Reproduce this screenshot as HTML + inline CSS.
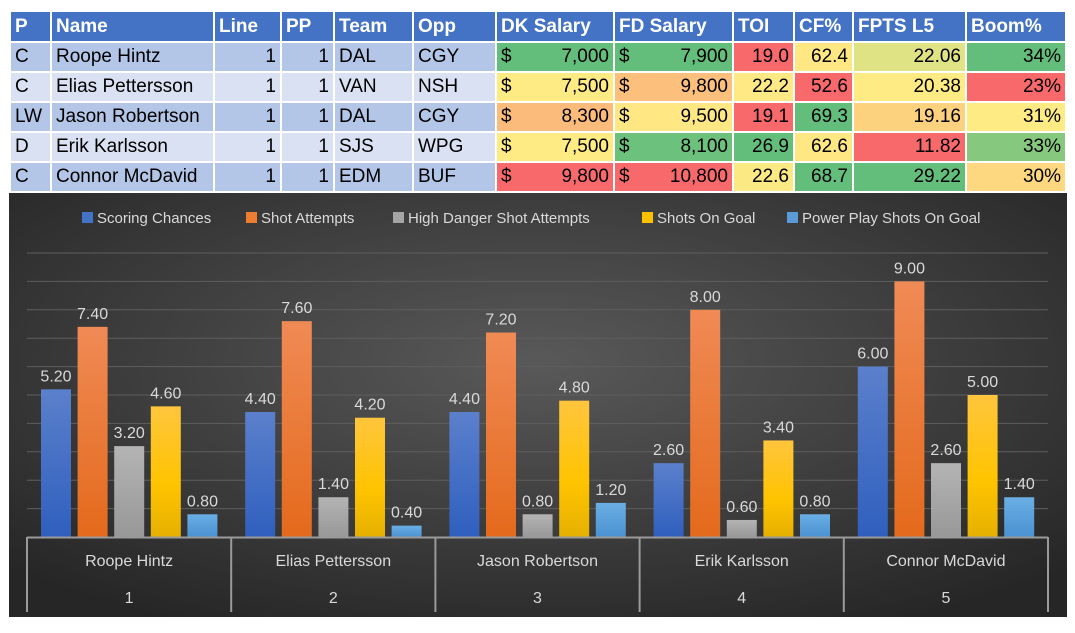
<!DOCTYPE html>
<html><head><meta charset="utf-8"><style>
body{margin:0;width:1075px;height:633px;background:#fff;position:relative;overflow:hidden;font-family:"Liberation Sans",sans-serif}
table{position:absolute;left:9px;top:10px;border-collapse:collapse;table-layout:fixed;width:1056px}
td,th{border:2px solid #fff;height:28px;padding:0 4px;font-size:19px;white-space:nowrap;overflow:hidden}
th{background:#4472C4;color:#fff;text-align:left;font-weight:bold;height:29px}
tr.a td{background:#B4C6E7}tr.b td{background:#D9E1F2}
td.r{text-align:right}
.m{display:flex;justify-content:space-between}
#chart{position:absolute;left:9px;top:193px}
</style></head><body>
<table>
<colgroup><col style="width:41px"><col style="width:163px"><col style="width:67px"><col style="width:53px"><col style="width:79px"><col style="width:83px"><col style="width:118px"><col style="width:119px"><col style="width:61px"><col style="width:59px"><col style="width:113px"><col style="width:100px"></colgroup>
<tr><th>P</th><th>Name</th><th>Line</th><th>PP</th><th>Team</th><th>Opp</th><th>DK Salary</th><th>FD Salary</th><th>TOI</th><th>CF%</th><th>FPTS L5</th><th>Boom%</th></tr>
<tr class="a"><td>C</td><td>Roope Hintz</td><td class="r">1</td><td class="r">1</td><td>DAL</td><td>CGY</td><td style="background:#63BE7B"><div class="m"><span>$</span><span>7,000</span></div></td><td style="background:#63BE7B"><div class="m"><span>$</span><span>7,900</span></div></td><td class="r" style="background:#F8696B">19.0</td><td class="r" style="background:#FFE884">62.4</td><td class="r" style="background:#E0E383">22.06</td><td class="r" style="background:#63BE7B">34%</td></tr>
<tr class="b"><td>C</td><td>Elias Pettersson</td><td class="r">1</td><td class="r">1</td><td>VAN</td><td>NSH</td><td style="background:#FFEB84"><div class="m"><span>$</span><span>7,500</span></div></td><td style="background:#FCC07C"><div class="m"><span>$</span><span>9,800</span></div></td><td class="r" style="background:#FFE984">22.2</td><td class="r" style="background:#F8696B">52.6</td><td class="r" style="background:#FFEB84">20.38</td><td class="r" style="background:#F8696B">23%</td></tr>
<tr class="a"><td>LW</td><td>Jason Robertson</td><td class="r">1</td><td class="r">1</td><td>DAL</td><td>CGY</td><td style="background:#FBBC7B"><div class="m"><span>$</span><span>8,300</span></div></td><td style="background:#FFE884"><div class="m"><span>$</span><span>9,500</span></div></td><td class="r" style="background:#F8696B">19.1</td><td class="r" style="background:#63BE7B">69.3</td><td class="r" style="background:#FDD27F">19.16</td><td class="r" style="background:#FFEB84">31%</td></tr>
<tr class="b"><td>D</td><td>Erik Karlsson</td><td class="r">1</td><td class="r">1</td><td>SJS</td><td>WPG</td><td style="background:#FFEB84"><div class="m"><span>$</span><span>7,500</span></div></td><td style="background:#6CC17C"><div class="m"><span>$</span><span>8,100</span></div></td><td class="r" style="background:#63BE7B">26.9</td><td class="r" style="background:#FFE884">62.6</td><td class="r" style="background:#F8696B">11.82</td><td class="r" style="background:#86C97E">33%</td></tr>
<tr class="a"><td>C</td><td>Connor McDavid</td><td class="r">1</td><td class="r">1</td><td>EDM</td><td>BUF</td><td style="background:#F8696B"><div class="m"><span>$</span><span>9,800</span></div></td><td style="background:#F8696B"><div class="m"><span>$</span><span>10,800</span></div></td><td class="r" style="background:#FBE983">22.6</td><td class="r" style="background:#63BE7B">68.7</td><td class="r" style="background:#63BE7B">29.22</td><td class="r" style="background:#FED880">30%</td></tr>
</table>
<svg id="chart" width="1058" height="424">
<defs>
<radialGradient id="bg" cx="50%" cy="40%" r="70%"><stop offset="0" stop-color="#595959"/><stop offset="1" stop-color="#262626"/></radialGradient>
<linearGradient id="g0" x1="0" y1="0" x2="0" y2="1"><stop offset="0" stop-color="#5B80CC"/><stop offset="1" stop-color="#2F5FBE"/></linearGradient>
<linearGradient id="g1" x1="0" y1="0" x2="0" y2="1"><stop offset="0" stop-color="#F08A55"/><stop offset="1" stop-color="#E46A1C"/></linearGradient>
<linearGradient id="g2" x1="0" y1="0" x2="0" y2="1"><stop offset="0" stop-color="#B4B4B4"/><stop offset="1" stop-color="#989898"/></linearGradient>
<linearGradient id="g3" x1="0" y1="0" x2="0" y2="1"><stop offset="0" stop-color="#FFC53D"/><stop offset="0.6" stop-color="#FFC400"/><stop offset="1" stop-color="#E6B000"/></linearGradient>
<linearGradient id="g4" x1="0" y1="0" x2="0" y2="1"><stop offset="0" stop-color="#6AAEE4"/><stop offset="1" stop-color="#4A92D2"/></linearGradient>
</defs>
<rect width="1058" height="424" fill="url(#bg)"/>
<g id="legend"></g><g id="grid"></g><g id="bars"></g><g id="axis"></g>
</svg>
<script>
const categories=["Roope Hintz","Elias Pettersson","Jason Robertson","Erik Karlsson","Connor McDavid"];
const catNums=["1","2","3","4","5"];
const seriesNames=["Scoring Chances","Shot Attempts","High Danger Shot Attempts","Shots On Goal","Power Play Shots On Goal"];
const scoringChances=[5.2,4.4,4.4,2.6,6.0];
const shotAttempts=[7.4,7.6,7.2,8.0,9.0];
const highDanger=[3.2,1.4,0.8,0.6,2.6];
const shotsOnGoal=[4.6,4.2,4.8,3.4,5.0];
const ppShotsOnGoal=[0.8,0.4,1.2,0.8,1.4];
const yMax=10, yTicks=[0,1,2,3,4,5,6,7,8,9,10];
const series=[scoringChances,shotAttempts,highDanger,shotsOnGoal,ppShotsOnGoal];
const NS="http://www.w3.org/2000/svg";
const px0=18,px1=1039,base=344,plotTop=60;
const y=v=>base-(v/yMax)*(base-plotTop);
const cw=(px1-px0)/categories.length;
const x=(i,s)=>px0+i*cw+14+s*36.6;
function mk(t,a,p,txt){const e=document.createElementNS(NS,t);for(const k in a)e.setAttribute(k,a[k]);if(txt!==undefined)e.textContent=txt;document.getElementById(p).appendChild(e);return e;}
yTicks.forEach(t=>{if(t===0)return;const l=mk('line',{x1:px0,x2:px1,y1:y(t),y2:y(t),stroke:'#5e5e5e','stroke-width':1},'grid');

});
series.forEach((vals,s)=>{vals.forEach((v,i)=>{
const r=mk('rect',{x:x(i,s),y:y(v),width:30,height:base-y(v),fill:'url(#g'+s+')'},'bars');


const t=mk('text',{x:x(i,s)+15,y:y(v)-8,'text-anchor':'middle',fill:'#d9d9d9','font-size':'16'},'bars',v.toFixed(2));


});});
mk('line',{x1:px0,x2:px1,y1:base+0.5,y2:base+0.5,stroke:'#9a9a9a','stroke-width':2},'axis');
for(let i=0;i<=categories.length;i++){const l=mk('line',{x1:px0+i*cw,x2:px0+i*cw,y1:base,y2:419,stroke:'#9a9a9a','stroke-width':2},'axis');

}
categories.forEach((c,i)=>{const t=mk('text',{x:px0+(i+0.5)*cw,y:373,'text-anchor':'middle',fill:'#d9d9d9','font-size':'16'},'axis',c);


const n=mk('text',{x:px0+(i+0.5)*cw,y:410,'text-anchor':'middle',fill:'#d9d9d9','font-size':'16'},'axis',catNums[i]);

});
const cols=['#4472C4','#ED7D31','#A5A5A5','#FFC000','#5B9BD5'];
const legX=[73,237,384,633,778];
seriesNames.forEach((n,s)=>{const r=mk('rect',{x:legX[s],y:19,width:11,height:11,fill:cols[s]},'legend');


const t=mk('text',{x:legX[s]+15,y:30,fill:'#d9d9d9','font-size':'15'},'legend',n);

});
</script>
</body></html>
